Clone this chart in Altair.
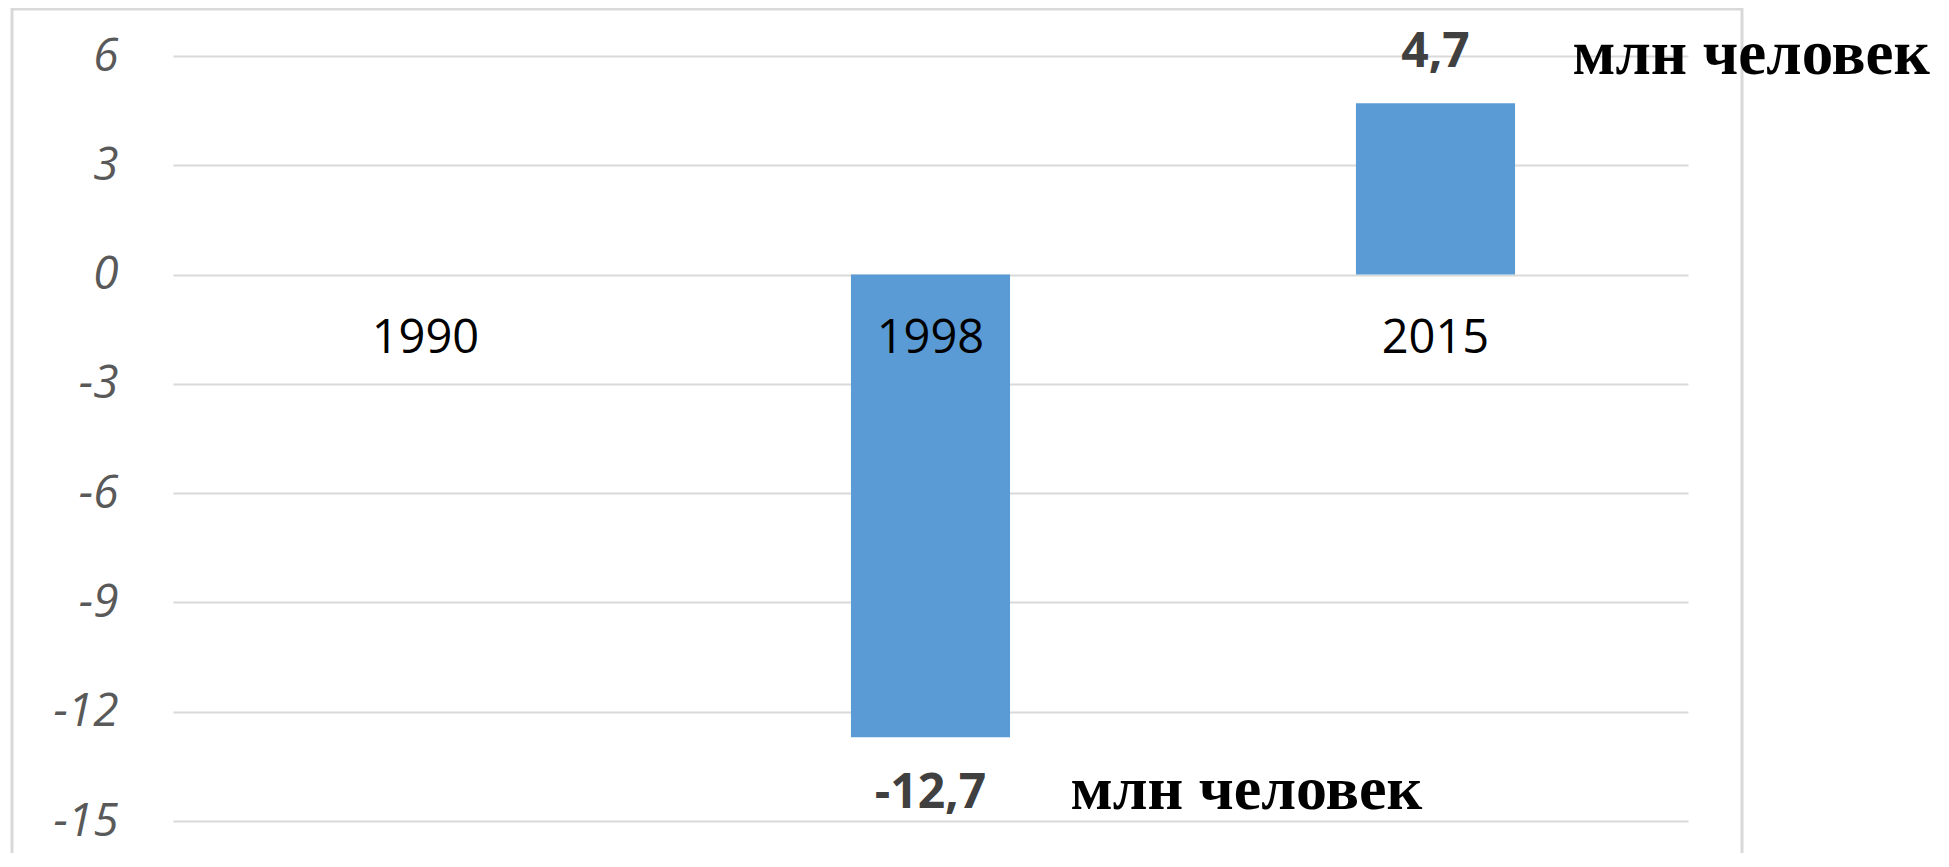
import altair as alt
import pandas as pd

# ---- data ----
years = ["1990", "1998", "2015"]
values = [0.0, -12.7, 4.7]
y_ticks = [-15, -12, -9, -6, -3, 0, 3, 6]
unit_label = "млн человек"

df = pd.DataFrame({"year": years, "value": values})
frame_df = pd.DataFrame({"k": [0]})

BAR = "#5B9BD5"
GRID = "#d9d9d9"

x_enc = alt.X("year:N", sort=years, axis=None,
              scale=alt.Scale(paddingInner=0.685, paddingOuter=0.3425))
y_scale = alt.Scale(domain=[-15, 6], nice=False)
y_axis = alt.Axis(values=y_ticks, title=None, domain=False, ticks=False,
                  grid=True, gridColor=GRID, gridWidth=2,
                  labelFont="Open Sans", labelFontStyle="italic",
                  labelFontSize=46, labelColor="#595959", labelPadding=55,
                  labelExpr="toString(datum.value)")

frame = alt.Chart(frame_df).mark_rect(
    fill="transparent", stroke=GRID, strokeWidth=3
).encode(x=alt.value(-161), x2=alt.value(1569), y=alt.value(-47), y2=alt.value(805))

bars = alt.Chart(df).mark_bar(color=BAR).encode(
    x=x_enc,
    y=alt.Y("value:Q", scale=y_scale, axis=y_axis),
)

cats = alt.Chart(df).mark_text(
    font="Open Sans", fontSize=47, color="#000000", baseline="alphabetic", dy=78
).encode(x=x_enc, y=alt.datum(0), text="year:N")

lab_expr = "replace(toString(datum.value), '.', ',')"

pos_lab = alt.Chart(df).transform_filter("datum.value > 0").transform_calculate(
    label=lab_expr
).mark_text(
    font="Open Sans", fontWeight="bold", fontSize=48, color="#404040",
    baseline="alphabetic", dy=-36
).encode(x=x_enc, y="value:Q", text="label:N")

neg_lab = alt.Chart(df).transform_filter("datum.value < 0").transform_calculate(
    label=lab_expr
).mark_text(
    font="Open Sans", fontWeight="bold", fontSize=48, color="#404040",
    baseline="alphabetic", dy=71
).encode(x=x_enc, y="value:Q", text="label:N")

ann_top = alt.Chart(df).transform_filter("datum.value > 0").mark_text(
    font="Liberation Serif", fontWeight="bold", fontSize=63, color="#000000",
    baseline="alphabetic", align="left", dx=137, dy=-29
).encode(x=x_enc, y="value:Q", text=alt.value(unit_label))

ann_bot = alt.Chart(df).transform_filter("datum.value < 0").mark_text(
    font="Liberation Serif", fontWeight="bold", fontSize=62, color="#000000",
    baseline="alphabetic", align="left", dx=140, dy=72
).encode(x=x_enc, y="value:Q", text=alt.value(unit_label))

chart = alt.layer(frame, bars, cats, pos_lab, neg_lab, ann_top, ann_bot).properties(
    width=1515, height=765,
    padding={"left": 165, "top": 48, "right": 253, "bottom": 32},
    autosize=alt.AutoSizeParams(type="none"),
    background="white",
).configure_view(stroke=None)

chart.save("out.html", embed_options={"renderer": "svg", "actions": False})
